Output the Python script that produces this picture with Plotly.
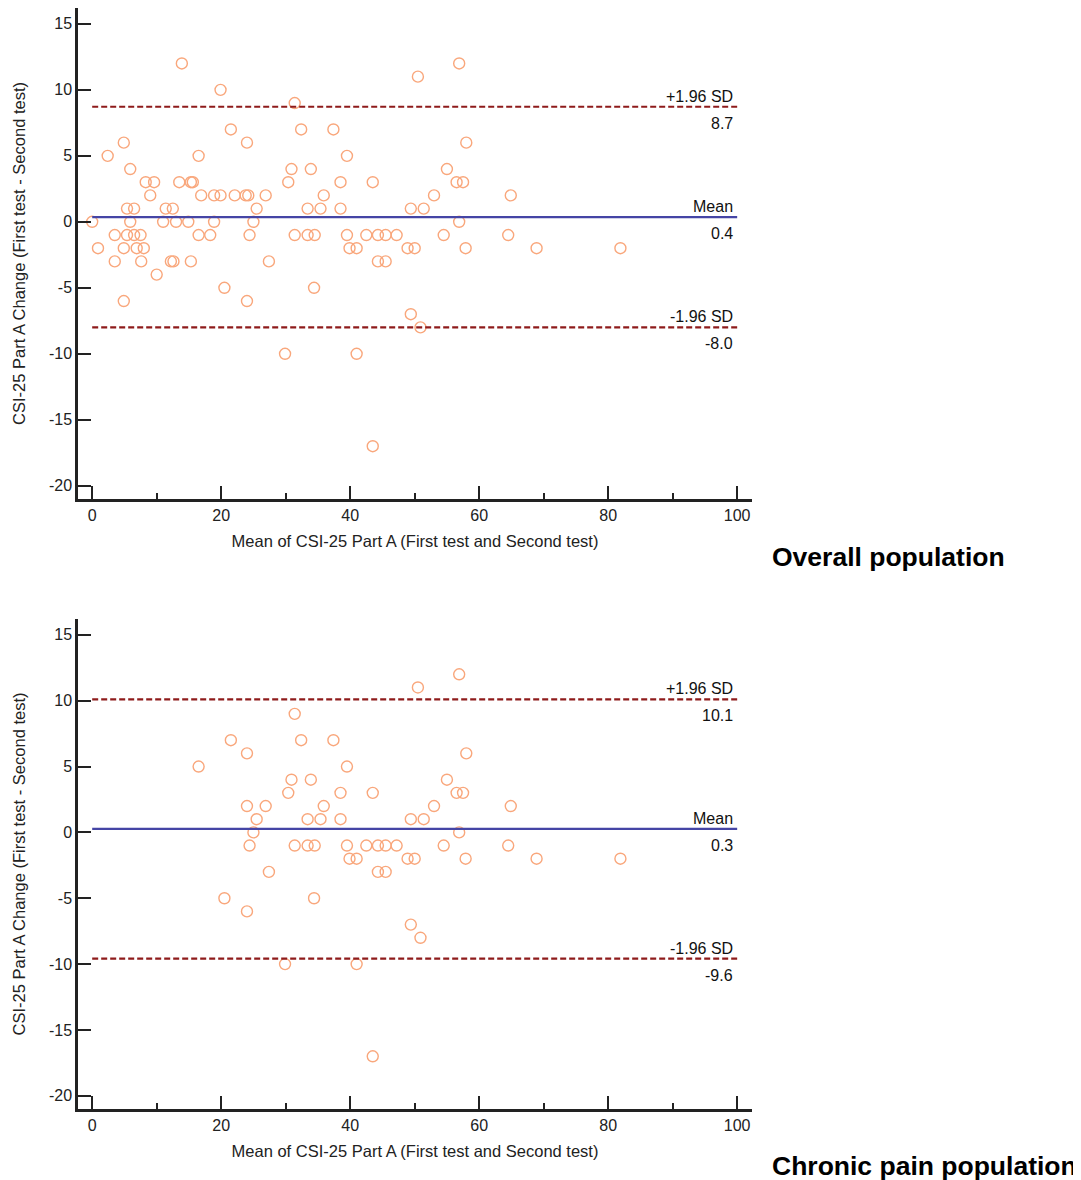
import plotly.graph_objects as go

# ---------------- data ----------------
overall_mean = [0, 0.9, 2.4, 3.5, 3.5, 4.9, 4.9, 4.9, 5.4, 6.5, 5.9, 5.9, 5.4, 6.5, 7.5, 6.9, 8.0, 7.6,
                8.3, 9.6, 9.0, 10.0, 11.0, 11.4, 12.5, 13.0, 12.2, 12.6, 13.9, 13.5, 14.9, 15.3, 15.6, 15.3,
                16.5, 16.5, 16.9, 18.3, 18.9, 19.9, 18.9, 19.9, 20.5, 21.5, 22.1, 24.0, 23.8, 24.2, 24.4,
                25.0, 25.5, 24.0, 26.9, 27.4, 29.9, 30.4, 30.9, 31.4, 31.4, 32.4, 33.4, 33.4, 34.5, 33.9,
                34.4, 35.4, 35.9, 37.4, 38.5, 38.5, 39.5, 39.5, 39.9, 41.0, 41.0, 42.5, 43.5, 43.5, 44.3,
                45.5, 44.3, 45.5, 47.2, 50.5, 56.9, 58.0, 55.0, 56.5, 57.5, 53.0, 64.9, 49.4, 51.4, 56.9,
                54.5, 64.5, 48.9, 50.0, 57.9, 68.9, 81.9, 49.4, 50.9]
overall_change = [0, -2, 5, -1, -3, 6, -2, -6, 1, 1, 4, 0, -1, -1, -1, -2, -2, -3,
                  3, 3, 2, -4, 0, 1, 1, 0, -3, -3, 12, 3, 0, 3, 3, -3,
                  5, -1, 2, -1, 2, 2, 0, 10, -5, 7, 2, 6, 2, 2, -1,
                  0, 1, -6, 2, -3, -10, 3, 4, 9, -1, 7, 1, -1, -1, 4,
                  -5, 1, 2, 7, 3, 1, 5, -1, -2, -2, -10, -1, 3, -17, -1,
                  -1, -3, -3, -1, 11, 12, 6, 4, 3, 3, 2, 2, 1, 1, 0,
                  -1, -1, -2, -2, -2, -2, -2, -7, -8]

chronic_mean = [16.5, 20.5, 21.5, 24.0, 24.0, 24.4, 25.0, 25.5, 24.0, 26.9, 27.4, 29.9, 30.4, 30.9,
                31.4, 31.4, 32.4, 33.4, 33.4, 34.5, 33.9, 34.4, 35.4, 35.9, 37.4, 38.5, 38.5, 39.5,
                39.5, 39.9, 41.0, 41.0, 42.5, 43.5, 43.5, 44.3, 45.5, 44.3, 45.5, 47.2, 50.5, 56.9,
                58.0, 55.0, 56.5, 57.5, 53.0, 64.9, 49.4, 51.4, 56.9, 54.5, 64.5, 48.9, 50.0, 57.9,
                68.9, 81.9, 49.4, 50.9]
chronic_change = [5, -5, 7, 6, 2, -1, 0, 1, -6, 2, -3, -10, 3, 4,
                  9, -1, 7, 1, -1, -1, 4, -5, 1, 2, 7, 3, 1, 5,
                  -1, -2, -2, -10, -1, 3, -17, -1, -1, -3, -3, -1, 11, 12,
                  6, 4, 3, 3, 2, 2, 1, 1, 0, -1, -1, -2, -2, -2,
                  -2, -2, -7, -8]

limit_names = ["+1.96 SD", "Mean", "-1.96 SD"]
overall_limits = [8.72, 0.36, -8.0]
overall_limit_labels = ["8.7", "0.4", "-8.0"]
chronic_limits = [10.1, 0.26, -9.58]
chronic_limit_labels = ["10.1", "0.3", "-9.6"]

y_tick_values = [-20, -15, -10, -5, 0, 5, 10, 15]
y_tick_labels = ["-20", "-15", "-10", "-5", "0", "5", "10", "15"]
x_tick_values = [0, 20, 40, 60, 80, 100]
x_tick_labels = ["0", "20", "40", "60", "80", "100"]

panel_titles = ["Overall population", "Chronic pain population"]
x_title = "Mean of CSI-25 Part A (First test and Second test)"
y_title = "CSI-25 Part A Change (First test - Second test)"

# ---------------- style ----------------
OFF = 8  # the page body has an 8px margin; positions below are page pixels
W, H = 1081 - OFF, 1180 - OFF
FONT = "Liberation Sans, Arial, sans-serif"
AXIS_COL = "#222222"
MARKER_COL = "#F9A77C"
SD_COL = "#8E1B1B"
MEAN_COL = "#4545A5"
LINE_SPAN = [0, 100]

ML, MR, MT, MB = 78 - OFF, (W + OFF) - 752, 8 - OFF, (H + OFF) - 1109
PW, PH = W - ML - MR, H - MT - MB


def py_frac(py):
    return 1 - (py - OFF - MT) / PH


def px_frac(px):
    return (px - OFF - ML) / PW


x_dom = [0, 1]
y_doms = [[py_frac(499), 1], [0, py_frac(619)]]

fig = go.Figure()

panels = [
    (overall_mean, overall_change, overall_limits, overall_limit_labels),
    (chronic_mean, chronic_change, chronic_limits, chronic_limit_labels),
]

for i, (xs, ys, lims, lbls) in enumerate(panels):
    xa = "x" if i == 0 else "x2"
    ya = "y" if i == 0 else "y2"
    fig.add_trace(go.Scatter(
        x=xs, y=ys, mode="markers", xaxis=xa, yaxis=ya, showlegend=False,
        marker=dict(symbol="circle-open", size=11, color=MARKER_COL,
                    line=dict(width=1.4, color=MARKER_COL)),
        hoverinfo="x+y",
    ))
    for j, (v, name, lab) in enumerate(zip(lims, limit_names, lbls)):
        is_mean = (j == 1)
        fig.add_trace(go.Scatter(
            x=LINE_SPAN, y=[v, v], mode="lines", xaxis=xa, yaxis=ya, showlegend=False,
            line=dict(color=MEAN_COL if is_mean else SD_COL, width=2.2,
                      dash="solid" if is_mean else "6px,3px"),
            hoverinfo="skip",
        ))
        fig.add_annotation(x=LINE_SPAN[1], y=v, xref=xa, yref=ya, text=name,
                           showarrow=False, xanchor="right", yanchor="bottom",
                           xshift=-2, yshift=0,
                           font=dict(family=FONT, size=16, color="#111111"))
        fig.add_annotation(x=LINE_SPAN[1], y=v, xref=xa, yref=ya, text=lab,
                           showarrow=False, xanchor="right", yanchor="top",
                           xshift=-2, yshift=-6,
                           font=dict(family=FONT, size=16, color="#111111"))

axis_common = dict(
    showline=True, linecolor=AXIS_COL, linewidth=2.5, ticks="inside", ticklen=13,
    tickwidth=2, tickcolor=AXIS_COL, showgrid=False, zeroline=False, automargin=False,
    tickfont=dict(family=FONT, size=16, color="#222222"),
)

layout = dict(
    width=W, height=H, paper_bgcolor="white", plot_bgcolor="white",
    margin=dict(l=ML, r=MR, t=MT, b=MB, autoexpand=False),
    font=dict(family=FONT, color="#222222"),
)
for i in range(2):
    sfx = "" if i == 0 else "2"
    layout["xaxis" + sfx] = dict(
        axis_common, domain=x_dom, range=[-2.2, 102.3], anchor="y" + sfx,
        tickmode="array", tickvals=x_tick_values, ticktext=x_tick_labels,
        minor=dict(ticks="inside", ticklen=6, tickwidth=1.5, tickcolor=AXIS_COL, dtick=10, tick0=0),
        title=dict(text=x_title, font=dict(family=FONT, size=16.5, color="#222222"), standoff=13),
    )
    layout["yaxis" + sfx] = dict(
        axis_common, domain=y_doms[i], range=[-21.0, 16.2], anchor="x" + sfx,
        tickmode="array", tickvals=y_tick_values, ticktext=y_tick_labels,
        title=dict(text=y_title, font=dict(family=FONT, size=16.5, color="#222222"), standoff=20),
    )

fig.update_layout(**layout)

title_pos = [(888, 557), (924, 1166)]
for t, (px, py) in zip(panel_titles, title_pos):
    fig.add_annotation(x=px_frac(px), y=py_frac(py), xref="paper", yref="paper", text="<b>%s</b>" % t,
                       showarrow=False, xanchor="center", yanchor="middle",
                       font=dict(family=FONT, size=26.5, color="#000000"))

fig.write_html("out.html")
